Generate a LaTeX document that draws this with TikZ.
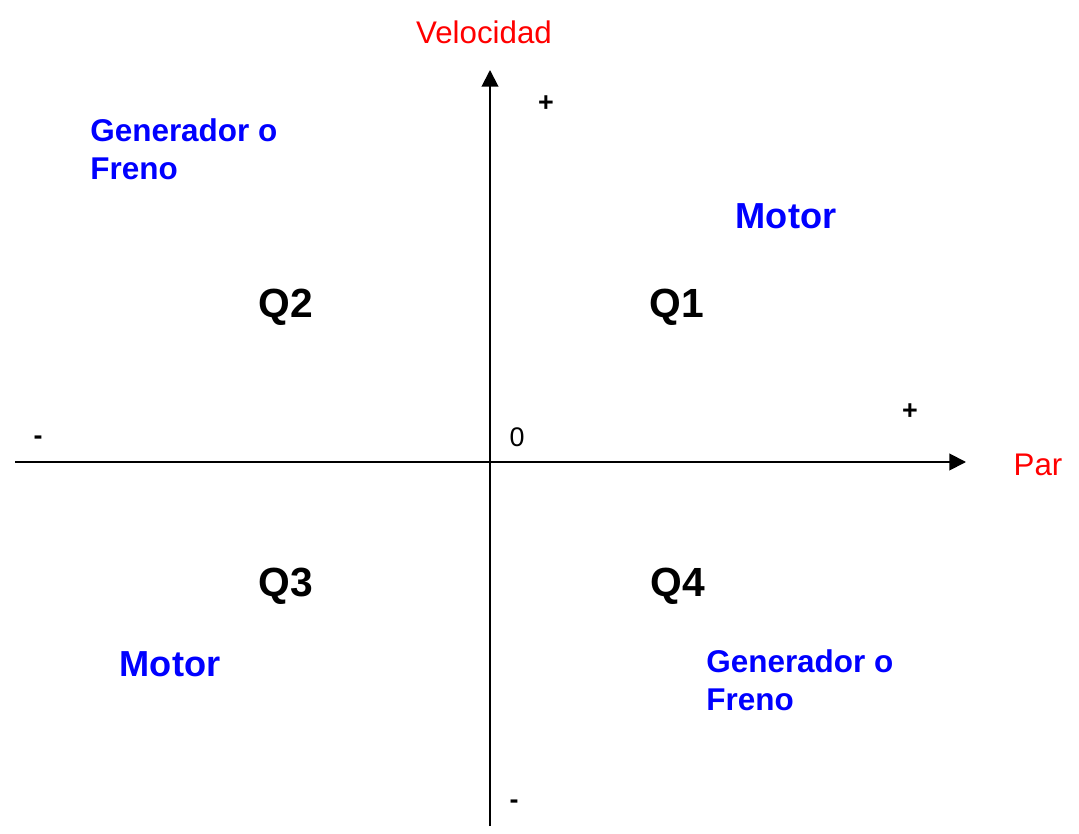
\documentclass[tikz,border=0pt]{standalone}
\usepackage{fontspec}
\setmainfont{Liberation Sans}
\usetikzlibrary{arrows.meta}
\definecolor{axred}{RGB}{255,0,0}
\definecolor{qblue}{RGB}{0,0,255}
\begin{document}
\begin{tikzpicture}[x=0.02cm,y=-0.02cm,
  axis/.style={line width=1.1pt,draw=black,-{Triangle[length=9.5pt,width=9.5pt]}},
  axlabel/.style={text=axred,inner sep=0pt,font=\fontsize{17.8}{21}\selectfont},
  modelabel/.style={text=qblue,inner sep=0pt,align=left,font=\fontsize{17.9}{21.5}\selectfont\bfseries},
  motorlabel/.style={text=qblue,inner sep=0pt,font=\fontsize{20.6}{24}\selectfont\bfseries},
  quadlabel/.style={text=black,inner sep=0pt,font=\fontsize{23.2}{27}\selectfont\bfseries},
  signlabel/.style={text=black,inner sep=0pt,font=\fontsize{15.3}{18}\selectfont\bfseries},
  zerolabel/.style={text=black,inner sep=0pt,font=\fontsize{15.3}{18}\selectfont}]
\useasboundingbox (0,0) rectangle (1079,834);
\coordinate (xl) at (15,462);
\coordinate (xr) at (966,462);
\coordinate (yb) at (490,826);
\coordinate (yt) at (490,70);
\draw[axis] (xl) -- (xr);
\draw[axis] (yb) -- (yt);
\node[axlabel] (vel) at (484,32) {Velocidad};
\node[axlabel] (par) at (1038,465) {Par};
\node[modelabel,anchor=west] (gen2) at (90,149) {Generador o\\Freno};
\node[modelabel,anchor=west] (gen4) at (706,680) {Generador o\\Freno};
\node[motorlabel] (mot1) at (786,216) {Motor};
\node[motorlabel] (mot3) at (170,664) {Motor};
\node[quadlabel] (q2) at (286,307) {Q2};
\node[quadlabel] (q1) at (677,307) {Q1};
\node[quadlabel] (q3) at (286,586) {Q3};
\node[quadlabel] (q4) at (678,586) {Q4};
\node[signlabel] (py) at (546,104) {+};
\node[signlabel] (px) at (910,412) {+};
\node[signlabel] (mx) at (38,440) {-};
\node[signlabel] (my) at (514,804) {-};
\node[zerolabel] (zero) at (517,437) {0};
\end{tikzpicture}
\end{document}
